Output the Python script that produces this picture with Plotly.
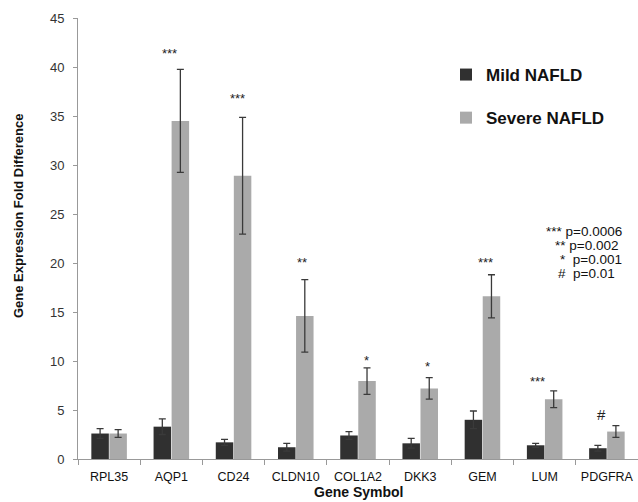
import plotly.graph_objects as go

genes = ["RPL35", "AQP1", "CD24", "CLDN10", "COL1A2", "DKK3", "GEM", "LUM", "PDGFRA"]
mild = [2.6, 3.3, 1.7, 1.2, 2.4, 1.6, 4.0, 1.4, 1.1]
mild_err = [0.5, 0.8, 0.3, 0.4, 0.4, 0.5, 0.9, 0.2, 0.3]
severe = [2.6, 34.5, 28.9, 14.6, 7.95, 7.2, 16.6, 6.1, 2.8]
severe_err = [0.4, 5.25, 5.95, 3.7, 1.35, 1.1, 2.2, 0.85, 0.6]
sig_labels = ["", "***", "***", "**", "*", "*", "***", "***", "#"]
sig_y = [0, 41.4, 36.8, 20.1, 10.1, 9.4, 20.1, 7.9, 4.5]
pvalue_lines = ["*** p=0.0006", "** p=0.002", "*  p=0.001", "#  p=0.01"]

# label placement (pixel offsets from category centre)
sig_xshift = [0, -2, 4, 6, 8, 7, 3, -7, -5]

MILD_C = "#303030"
SEV_C = "#aaaaaa"
ERR_C = "#3a3a3a"
FONT = "Arial, Liberation Sans"

fig = go.Figure()
fig.add_trace(go.Bar(
    x=genes, y=mild, name="Mild NAFLD", marker_color=MILD_C, marker_line_width=0,
    error_y=dict(type="data", array=mild_err, color=ERR_C, thickness=1.3, width=3.5),
    legendgroup="a",
))
fig.add_trace(go.Bar(
    x=genes, y=severe, name="Severe NAFLD", marker_color=SEV_C, marker_line_width=0,
    error_y=dict(type="data", array=severe_err, color=ERR_C, thickness=1.3, width=3.5),
    legendgroup="b",
))

annotations = []
for g, s, yv, xs in zip(genes, sig_labels, sig_y, sig_xshift):
    if s:
        annotations.append(dict(
            x=g, y=yv, text=s, showarrow=False, xshift=xs,
            font=dict(family=FONT, size=15 if s == "#" else 13, color="#222222"),
        ))

p_x = [544, 553, 558, 556]
p_y = [231, 245, 259, 273]
for t, px, py in zip(pvalue_lines, p_x, p_y):
    annotations.append(dict(
        xref="paper", yref="paper",
        x=(px - 78) / 560, y=(459 - py) / 441,
        xanchor="left", yanchor="middle", text=t.replace("  ", "\u00a0 "), showarrow=False,
        font=dict(family=FONT, size=13.5, color="#111111"),
    ))

annotations.append(dict(
    xref="paper", yref="paper", x=0, y=(459 - 216) / 441, xshift=-60, textangle=-90,
    text="<b>Gene Expression Fold Difference</b>", showarrow=False,
    xanchor="center", yanchor="middle",
    font=dict(family=FONT, size=13, color="#111111"),
))
annotations.append(dict(
    xref="paper", yref="paper", x=(358 - 78) / 560, y=0, yshift=-33,
    text="<b>Gene Symbol</b>", showarrow=False,
    xanchor="center", yanchor="middle",
    font=dict(family=FONT, size=14, color="#111111"),
))

fig.update_layout(
    width=638, height=502,
    margin=dict(l=78, r=0, t=18, b=43),
    paper_bgcolor="white", plot_bgcolor="white",
    barmode="group", bargap=0.42, bargroupgap=0.03,
    showlegend=True,
    legend=dict(
        x=(446 - 78) / 560, y=(459 - 57) / 441, xanchor="left", yanchor="top",
        font=dict(family=FONT, size=17, color="#111111", weight="bold"),
        tracegroupgap=18, itemwidth=30, bgcolor="rgba(0,0,0,0)",
    ),
    annotations=annotations,
    xaxis=dict(
        showline=True, linecolor="#999999", linewidth=1,
        ticks="outside", tickson="boundaries", ticklen=5, tickcolor="#999999",
        tickfont=dict(family=FONT, size=12.5, color="#111111"),
        showgrid=False, ticklabelstandoff=6,
    ),
    yaxis=dict(
        range=[0, 45], dtick=5, showline=True, linecolor="#999999", linewidth=1,
        ticks="outside", ticklen=4, tickcolor="#999999",
        tickfont=dict(family=FONT, size=13, color="#333333"),
        showgrid=False, zeroline=False, ticklabelstandoff=6,
    ),
)

fig.write_html(
    "out.html",
    config={"displayModeBar": False},
    post_script="document.body.style.margin='0';document.body.style.overflow='hidden';",
)
